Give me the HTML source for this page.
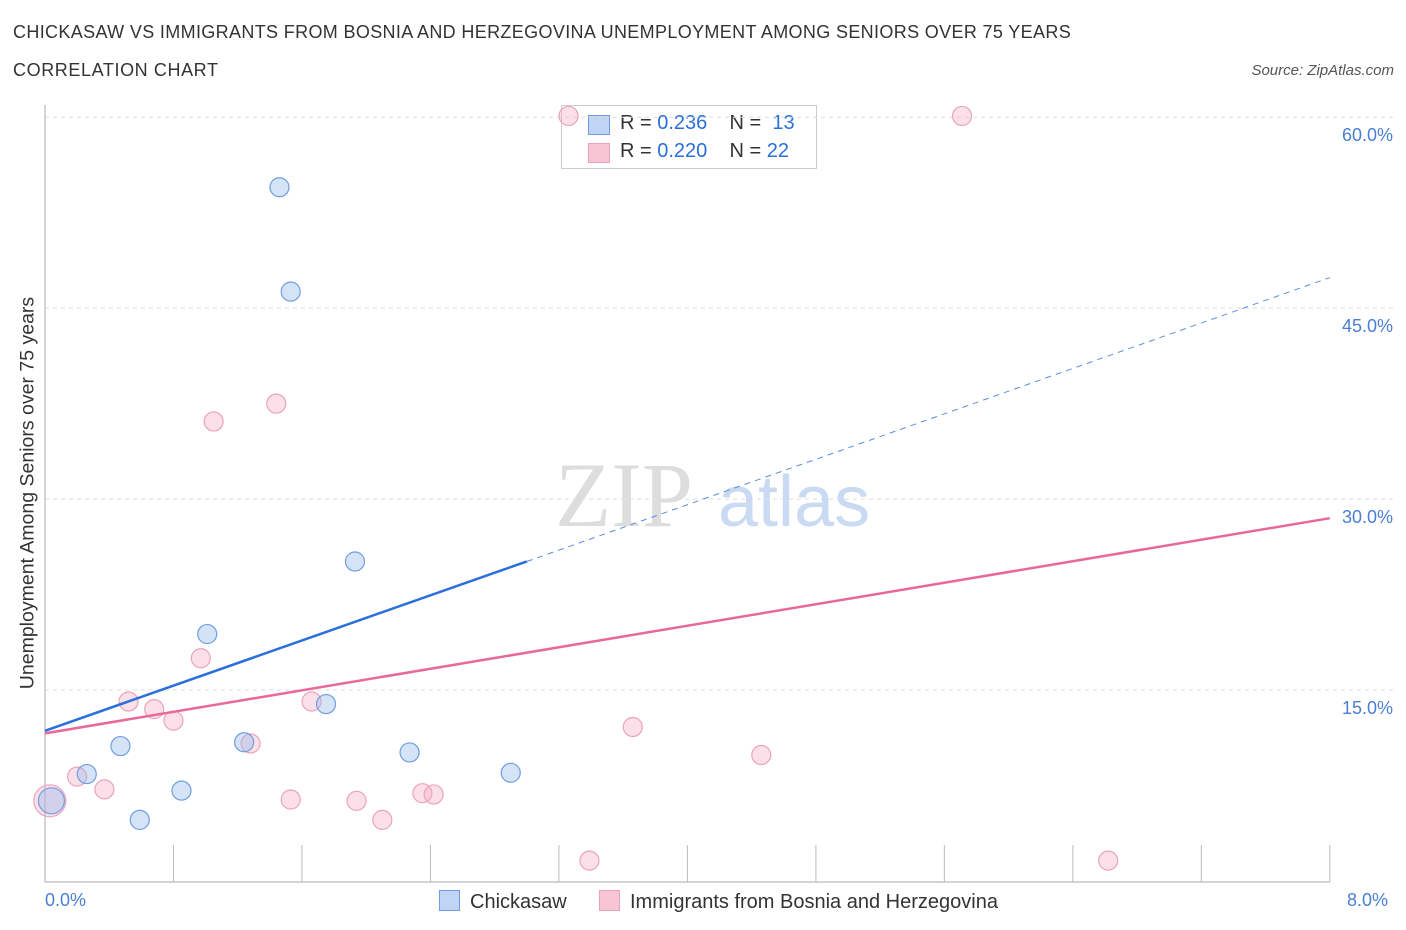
<!DOCTYPE html>
<html><head><meta charset="utf-8"><style>
body{margin:0;background:#fff;font-family:"Liberation Sans",sans-serif;}
#wrap{position:relative;width:1406px;height:930px;overflow:hidden}
.t{position:absolute;white-space:nowrap}
</style></head><body><div id="wrap">
<div class="t" style="left:13px;top:22px;font-size:18px;letter-spacing:0.35px;color:#333">CHICKASAW VS IMMIGRANTS FROM BOSNIA AND HERZEGOVINA UNEMPLOYMENT AMONG SENIORS OVER 75 YEARS</div>
<div class="t" style="left:13px;top:60px;font-size:18px;letter-spacing:0.6px;color:#333">CORRELATION CHART</div>
<div class="t" style="right:12px;top:62px;font-size:15px;color:#555;font-style:italic">Source: ZipAtlas.com</div>
<div style="position:absolute;left:561px;top:105px;width:254px;height:62px;border:1px solid #ccc;background:#fff;font-size:20px;color:#333">
 <div style="position:absolute;left:26px;top:9px;width:20px;height:18px;background:#c0d5f5;border:1px solid #6f9ee0"></div>
 <div class="t" style="left:58px;top:6px">R = <span style="color:#2a6fdb">0.236</span>&nbsp;&nbsp;&nbsp;&nbsp;N = &nbsp;<span style="color:#2a6fdb">13</span></div>
 <div style="position:absolute;left:26px;top:37px;width:20px;height:18px;background:#f8c5d5;border:1px solid #eba3bb"></div>
 <div class="t" style="left:58px;top:34px">R = <span style="color:#2a6fdb">0.220</span>&nbsp;&nbsp;&nbsp;&nbsp;N = <span style="color:#2a6fdb">22</span></div>
</div>
<svg id="svg" width="1406" height="930" style="position:absolute;left:0;top:0"></svg>
</div>
<script>
const blueX=[0.04,0.26,0.47,0.59,0.85,1.01,1.24,1.46,1.53,1.75,1.93,2.27,2.90];
const blueY=[6.3,8.4,10.6,4.8,7.1,19.4,10.9,54.5,46.3,13.9,25.1,10.1,8.5];
const pinkX=[0.03,0.20,0.37,0.52,0.68,0.80,0.97,1.05,1.28,1.44,1.53,1.66,1.94,2.10,2.35,2.42,3.26,3.39,3.66,4.46,5.71,6.62];
const pinkY=[6.3,8.2,7.2,14.1,13.5,12.6,17.5,36.1,10.8,37.5,6.4,14.1,6.3,4.8,6.9,6.8,60.1,1.6,12.1,9.9,60.1,1.6];
const yTicks=[15,30,45,60];
const yTickLabels=["15.0%","30.0%","45.0%","60.0%"];
const blueTrend=[11.8,25.1,47.4]; // at x=0, 3.0, 8.0
const pinkTrend=[11.6,28.5]; // at x=0, 8.0
const sx=v=>45+v*160.6, sy=v=>881-v*12.73;
const svg=document.getElementById('svg');const NS='http://www.w3.org/2000/svg';
function mk(tag,attrs,parent){const e=document.createElementNS(NS,tag);for(const k in attrs)e.setAttribute(k,attrs[k]);(parent||svg).appendChild(e);return e;}
yTicks.forEach((t,i)=>{
 const l=mk('line',{x1:45,x2:1395,y1:sy(t),y2:sy(t),stroke:'#ddd','stroke-dasharray':'4,4'});
 
 
 const tx=mk('text',{x:1393,y:sy(t)+24,'text-anchor':'end','font-size':18,fill:'#4a7fd4','font-family':'Liberation Sans'});
 tx.textContent=yTickLabels[i];
 
 
});
const ya=mk('line',{x1:45,x2:45,y1:105,y2:882,stroke:'#aaa'});

const xa=mk('line',{x1:45,x2:1330,y1:882,y2:882,stroke:'#aaa'});

for(let i=1;i<=10;i++){const tk=mk('line',{x1:sx(i*0.8),x2:sx(i*0.8),y1:845,y2:882,stroke:'#bbb'});
 }
const wm=mk('text',{x:555,y:526,'font-size':92,fill:'#ddd','font-family':'Liberation Serif'});wm.textContent='ZIP';

const wm2=mk('text',{x:718,y:526,'font-size':72,fill:'#c9daf2','font-family':'Liberation Sans'});wm2.textContent='atlas';
function dot(x,y,fill,stroke,r){const c=mk('circle',{cx:sx(x),cy:sy(y),r:r,fill:fill,stroke:stroke,'stroke-width':1.2});return c;}
pinkX.forEach((x,i)=>{const c=dot(x,pinkY[i],'rgba(244,167,192,0.35)','#eba3bb',i==0?16:9.5);
 });
blueX.forEach((x,i)=>{const c=dot(x,blueY[i],'rgba(150,185,235,0.4)','#6f9ee0',i==0?13:9.5);
 });
const bl=mk('line',{x1:sx(0),y1:sy(blueTrend[0]),x2:sx(3),y2:sy(blueTrend[1]),stroke:'#2a6fdb','stroke-width':2.5});

const bd=mk('line',{x1:sx(3),y1:sy(blueTrend[1]),x2:sx(8),y2:sy(blueTrend[2]),stroke:'#5a8fe0','stroke-width':1,'stroke-dasharray':'6,5'});

const pl=mk('line',{x1:sx(0),y1:sy(pinkTrend[0]),x2:sx(8),y2:sy(pinkTrend[1]),stroke:'#e8689a','stroke-width':2.5});

</script>
<div class="t" style="left:28px;top:493px;font-size:19.5px;color:#333;transform:translate(-50%,-50%) rotate(-90deg)">Unemployment Among Seniors over 75 years</div>
<div class="t" style="left:45px;top:890px;font-size:18px;color:#4a7fd4">0.0%</div>
<div class="t" style="left:1347px;top:890px;font-size:18px;color:#4a7fd4">8.0%</div>
<div style="position:absolute;left:439px;top:890px;font-size:20px;color:#333">
 <span style="display:inline-block;width:19px;height:19px;background:#c0d5f5;border:1px solid #6f9ee0;vertical-align:-3px;margin-right:10px"></span>Chickasaw</div>
<div style="position:absolute;left:599px;top:890px;font-size:20px;color:#333">
 <span style="display:inline-block;width:19px;height:19px;background:#f8c5d5;border:1px solid #eba3bb;vertical-align:-3px;margin-right:10px"></span>Immigrants from Bosnia and Herzegovina</div>
</body></html>
